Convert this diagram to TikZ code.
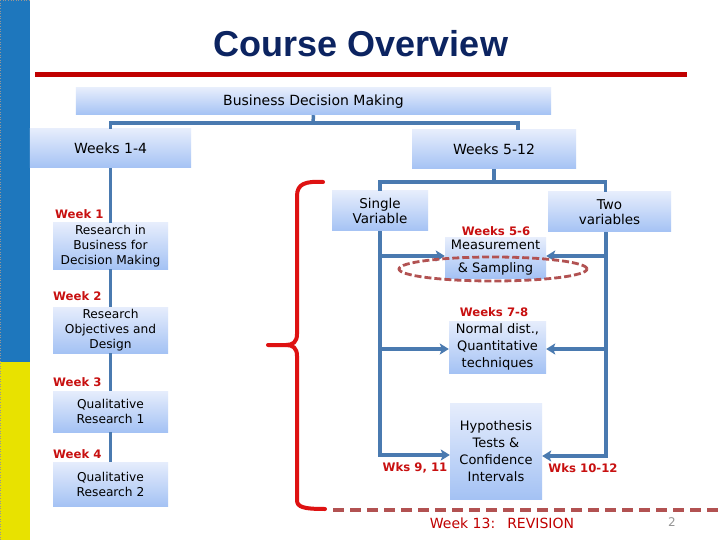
\documentclass[tikz,border=0pt]{standalone}
\usepackage{fontspec}
\setmainfont{DejaVu Sans}
\newfontfamily\titlefont{Liberation Sans}
\usetikzlibrary{arrows.meta,shapes.geometric}
\definecolor{barblue}{RGB}{30,119,189}
\definecolor{baryellow}{RGB}{232,226,0}
\definecolor{rulered}{RGB}{192,0,0}
\definecolor{titleblue}{RGB}{12,36,97}
\definecolor{boxtop}{RGB}{230,237,252}
\definecolor{boxbot}{RGB}{164,194,244}
\definecolor{linkblue}{RGB}{74,122,176}
\definecolor{labred}{RGB}{200,16,16}
\definecolor{brace}{RGB}{222,18,18}
\definecolor{dashred}{RGB}{178,82,82}
\definecolor{pagegrey}{RGB}{150,150,150}
\begin{document}
\begin{tikzpicture}[x=1bp,y=-1bp,
  pbox/.style={top color=boxtop,bottom color=boxbot,draw=none,inner sep=0pt,align=center,text=black},
  conn/.style={draw=linkblue,line width=3.5bp},
  arr/.style={conn,-{Stealth[length=9bp,width=11bp,inset=2bp]}},
  wk/.style={text=labred,font=\fontsize{11.7bp}{13bp}\selectfont\bfseries,inner sep=0pt},
  lbody/.style={font=\fontsize{12.2bp}{15bp}\selectfont},
  rbody/.style={font=\fontsize{13bp}{17bp}\selectfont},
  head/.style={font=\fontsize{14bp}{16bp}\selectfont}]
\useasboundingbox (0,0) rectangle (720,540);
\fill[white] (0,0) rectangle (720,540);
% left bar
\fill[barblue] (0,0) rectangle (30,362);
\fill[baryellow] (0,362) rectangle (30,540);
\draw[pagegrey,dotted,line width=0.6bp] (0.5,540) -- (0.5,0.5) -- (30,0.5);
% title and rule
\node[font=\titlefont\bfseries\fontsize{36bp}{40bp}\selectfont,text=titleblue,anchor=base,inner sep=0pt] (title) at (361,57) {Course Overview};
\coordinate (ruleL) at (35,75);
\coordinate (ruleR) at (687,75);
\draw[rulered,line width=5bp] (ruleL) -- (ruleR);
% boxes
\node[pbox,head,minimum width=475bp,minimum height=27bp] (bdm) at (313.5,101.5) {Business Decision Making};
\node[pbox,head,minimum width=161bp,minimum height=39bp] (w14) at (110.5,148.5) {Weeks 1-4};
\node[pbox,head,minimum width=164bp,minimum height=39bp] (w512) at (494,149.5) {Weeks 5-12};
\node[pbox,rbody,minimum width=96bp,minimum height=40bp,font=\fontsize{13.5bp}{15bp}\selectfont] (sv) at (380,211) {Single\\Variable};
\node[pbox,rbody,minimum width=123bp,minimum height=40bp,font=\fontsize{13.5bp}{15bp}\selectfont] (tv) at (609.5,212) {Two\\variables};
\node[pbox,rbody,minimum width=101bp,minimum height=40bp] (ms) at (495.5,258) {Measurement\\[6bp]\&~Sampling};
\node[pbox,rbody,minimum width=97bp,minimum height=52bp] (nd) at (497.5,347) {Normal dist.,\\Quantitative\\techniques};
\node[pbox,rbody,minimum width=92bp,minimum height=96bp] (hy) at (496,451) {Hypothesis\\Tests \&\\Confidence\\Intervals};
\node[pbox,lbody,minimum width=115bp,minimum height=46bp] (b1) at (110.5,246) {Research in\\Business for\\Decision Making};
\node[pbox,lbody,minimum width=115bp,minimum height=46bp] (b2) at (110.5,330) {Research\\Objectives and\\Design};
\node[pbox,lbody,minimum width=115bp,minimum height=41bp] (b3) at (110.5,411.5) {Qualitative\\Research 1};
\node[pbox,lbody,minimum width=115bp,minimum height=44bp] (b4) at (110.5,484) {Qualitative\\Research 2};
% labels
\node[wk,anchor=west] (lw1) at (55,214) {Week 1};
\node[wk,anchor=west] (lw2) at (53,296) {Week 2};
\node[wk,anchor=west] (lw3) at (53,382) {Week 3};
\node[wk,anchor=west] (lw4) at (53,454) {Week 4};
\node[wk] (lw56) at (496,231) {Weeks 5-6};
\node[wk] (lw78) at (494,312) {Weeks 7-8};
\node[wk] (lw911) at (415,468) {Wks 9, 11};
\node[wk] (lw1012) at (583,468) {Wks 10-12};
% top tree connectors
\coordinate (j1) at (313,123);
\draw[conn] (bdm.south) -- (j1);
\draw[conn] (w14.north) |- (j1);
\draw[conn] ([xshift=24bp]w512.north) |- (j1);
\coordinate (j2) at (494,182);
\draw[conn] (w512.south) -- (j2);
\draw[conn] (sv.north) |- (j2);
\draw[conn] ([xshift=-4bp]tv.north) |- (j2);
% left chain
\draw[conn] (w14.south) -- (b1.north);
\draw[conn] (b1.south) -- (b2.north);
\draw[conn] (b2.south) -- (b3.north);
\draw[conn] (b3.south) -- (b4.north);
% right side arrows
\coordinate (rtop) at ([xshift=-3.5bp]tv.south);
\draw[arr] (sv.south) |- ([yshift=-4bp]hy.west);
\draw[arr] (rtop) |- ([yshift=-5bp]hy.east);
\draw[arr] ([yshift=2bp]ms.west -| sv.south) -- ([yshift=2bp]ms.west);
\draw[arr] ([yshift=2bp]ms.east -| rtop) -- ([yshift=2bp]ms.east);
\draw[arr] ([yshift=-2bp]nd.west -| sv.south) -- ([yshift=-2bp]nd.west);
\draw[arr] ([yshift=-2bp]nd.east -| rtop) -- ([yshift=-2bp]nd.east);
% dashed ellipse
\node[ellipse,draw=dashred,dashed,dash pattern=on 7bp off 3bp,line width=2.8bp,minimum width=188bp,minimum height=24bp,inner sep=0pt] (ell) at (493,269) {};
% red bracket
\coordinate (brtop) at (323,182);
\coordinate (brmid) at (268,345);
\coordinate (brbot) at (325,509);
\draw[brace,line width=4bp,line cap=round,line join=round]
  (brtop) .. controls (305,181) and (297,184) .. (297,196) -- (297,334)
  .. controls (297,342) and (293,345) .. (286,345) -- (brmid);
\draw[brace,line width=4bp,line cap=round,line join=round]
  (286,345) .. controls (293,345) and (297,348) .. (297,356) -- (297,500)
  .. controls (297,507) and (303,509) .. (brbot);
% bottom dashed line
\coordinate (dashL) at (333,510);
\coordinate (dashR) at (720,510);
\draw[dashred,line width=3.5bp,dash pattern=on 11bp off 6bp] (dashL) -- (dashR);
\node[text=rulered,font=\fontsize{14bp}{16bp}\selectfont,inner sep=0pt] (rev) at (502,523) {Week 13:\hspace{12bp}REVISION};
\node[text=pagegrey,font=\fontsize{12bp}{14bp}\selectfont,inner sep=0pt] (pg) at (672,522) {2};
\end{tikzpicture}
\end{document}
